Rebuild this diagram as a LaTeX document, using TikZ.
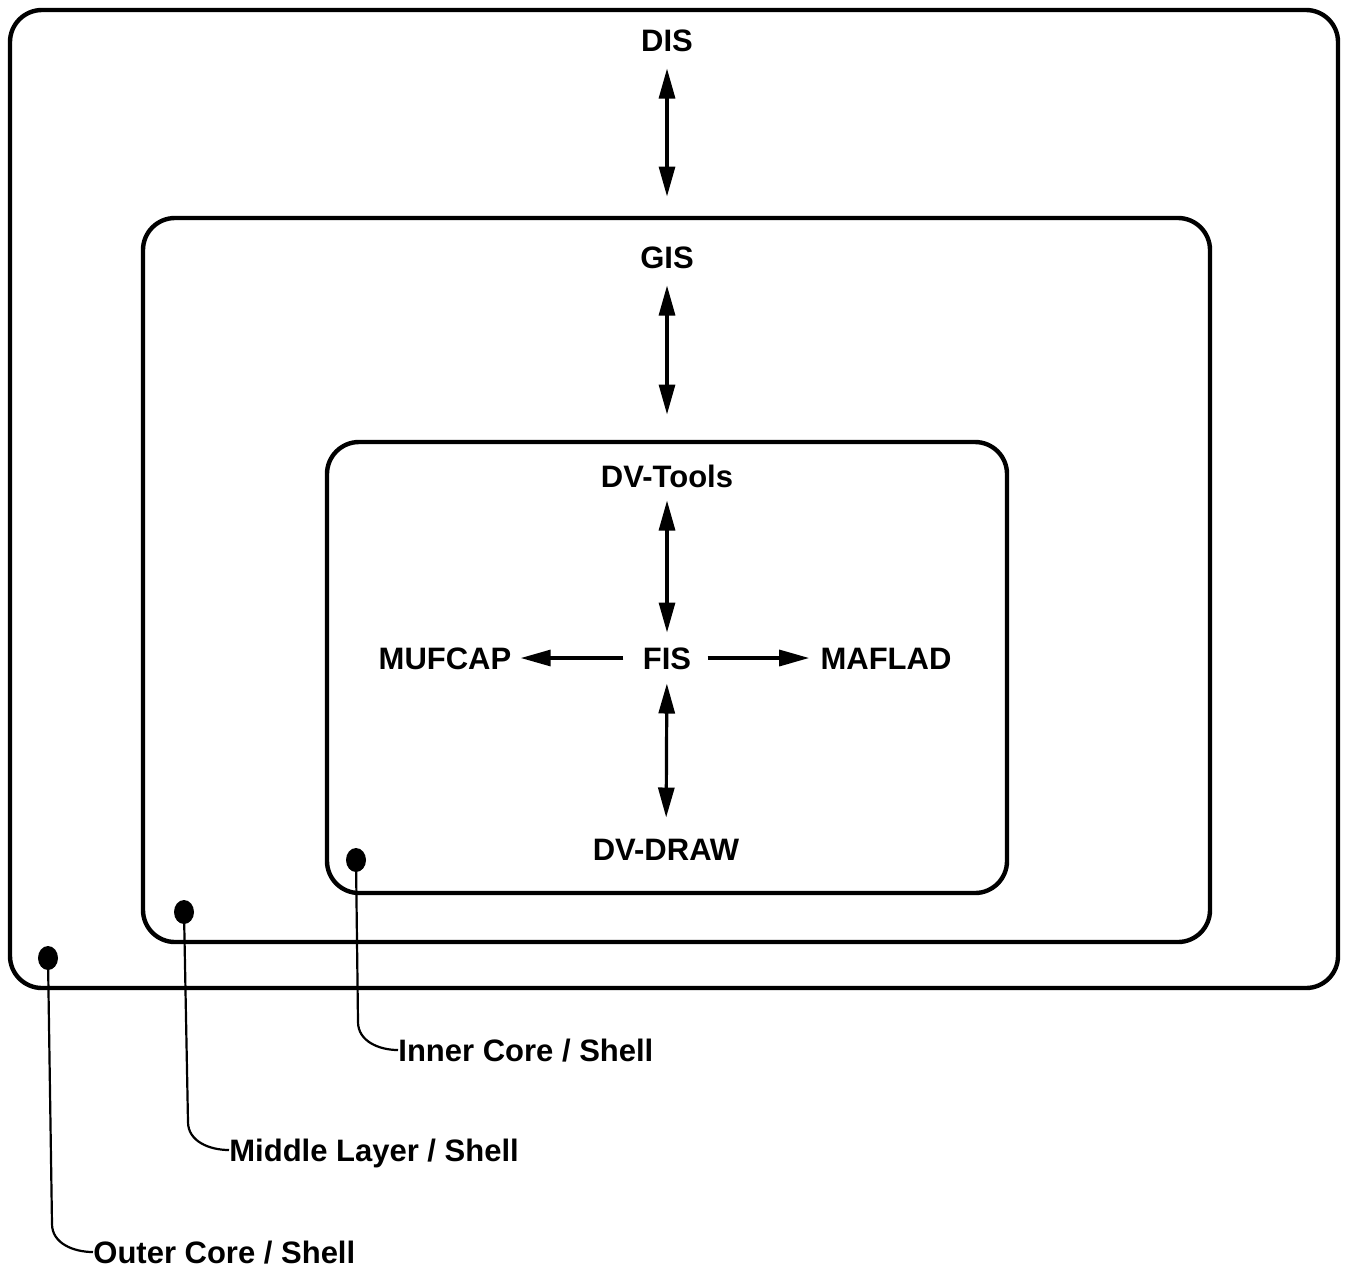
\documentclass[tikz,border=0pt]{standalone}
\usepackage{fontspec}
\setmainfont{Liberation Sans}
\usetikzlibrary{arrows.meta,shapes.geometric}
\begin{document}
\begin{tikzpicture}[x=0.5pt,y=-0.5pt,
  lbl/.style={font=\bfseries\fontsize{15.5}{18}\selectfont, inner sep=0pt, text height=11.1pt, text depth=0pt},
  shell/.style={line width=2.2pt, rounded corners=16pt},
  conn/.style={line width=1.6pt, -{Triangle[length=15pt,width=8pt]}},
  dconn/.style={line width=1.6pt, {Triangle[length=15pt,width=8pt]}-{Triangle[length=15pt,width=8pt]}},
  lead/.style={line width=1.1pt},
  dotm/.style={ellipse, fill=black, minimum width=10pt, minimum height=12pt, inner sep=0pt}]
\useasboundingbox (0,0) rectangle (1347,1270);
% shells
\draw[shell] (10,10) rectangle (1338,988);
\draw[shell] (143,218) rectangle (1210,942);
\draw[shell] (327,442) rectangle (1007,893);
% labels
\node[lbl] (dis) at (667,40) {DIS};
\node[lbl] (gis) at (667,257) {GIS};
\node[lbl] (dvt) at (667,476) {DV-Tools};
\node[lbl] (fis) at (667,658) {FIS};
\node[lbl] (muf) at (445,658) {MUFCAP};
\node[lbl] (maf) at (886,658) {MAFLAD};
\node[lbl] (dvd) at (666,849) {DV-DRAW};
% connectors
\draw[dconn, shorten <=8.5pt, shorten >=24.5pt] (dis) -- (gis);
\draw[dconn, shorten <=8.5pt, shorten >=25pt] (gis) -- (dvt);
\draw[dconn, shorten <=6.5pt, shorten >=7pt] (dvt) -- (fis);
\draw[dconn, shorten <=7pt, shorten >=10pt] (fis) -- (dvd);
\draw[conn, shorten <=9.5pt, shorten >=4.5pt] (fis) -- (muf);
\draw[conn, shorten <=8pt, shorten >=5.5pt] (fis) -- (maf);
% shell markers
\node[dotm] (d1) at (356,860) {};
\node[dotm] (d2) at (184,912) {};
\node[dotm] (d3) at (48,958) {};
\node[lbl, anchor=west] (l1) at (398,1050) {Inner Core / Shell};
\node[lbl, anchor=west] (l2) at (229,1150) {Middle Layer / Shell};
\node[lbl, anchor=west] (l3) at (93,1252) {Outer Core / Shell};
\draw[lead] (d1.center) -- (358,1022) to[out=-90,in=180] (l1.west);
\draw[lead] (d2.center) -- (188,1122) to[out=-90,in=180] (l2.west);
\draw[lead] (d3.center) -- (52,1224) to[out=-90,in=180] (l3.west);
\end{tikzpicture}
\end{document}
